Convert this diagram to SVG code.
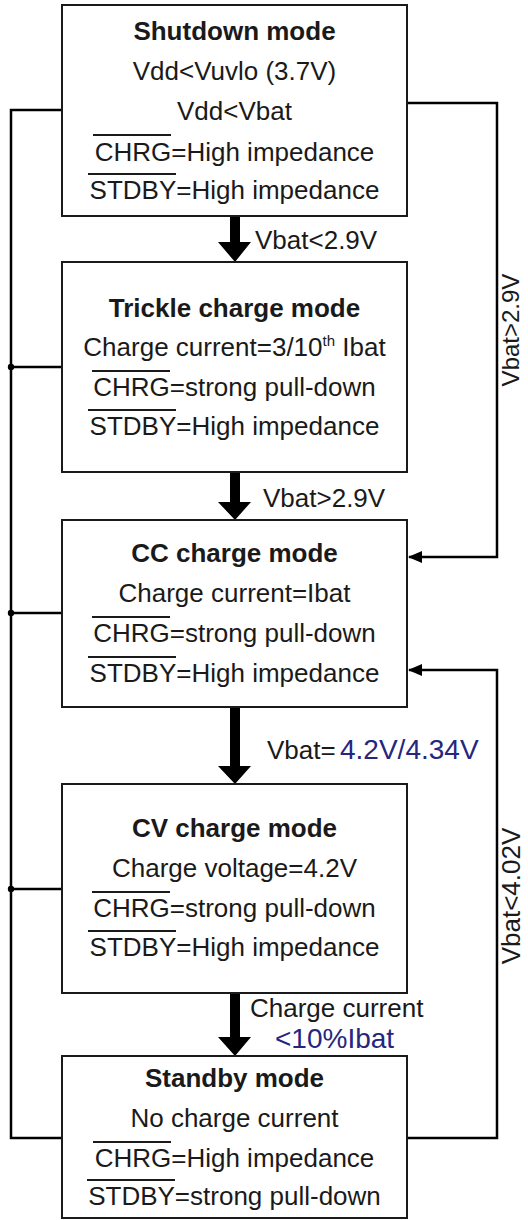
<svg xmlns="http://www.w3.org/2000/svg" width="528" height="1220" viewBox="0 0 528 1220">
<style>
.box{fill:#fff;stroke:#1a1a1a;stroke-width:2}
.t{font-family:"Liberation Sans",Arial,sans-serif;font-size:26px;fill:#1a1a1a;text-anchor:middle}
.b{font-weight:bold}
.l{font-family:"Liberation Sans",Arial,sans-serif;font-size:26px;fill:#1a1a1a}
.v{font-family:"Liberation Sans",Arial,sans-serif;fill:#1a1a1a;text-anchor:middle}
.blue{fill:#26267f;font-size:28px}
.ol{stroke:#1a1a1a;stroke-width:2}
.w{fill:none;stroke:#000;stroke-width:2.5}
.big{fill:#000}
</style>
<defs>
<marker id="ah" markerWidth="14" markerHeight="12" refX="13" refY="6" orient="auto" markerUnits="userSpaceOnUse">
<path d="M0,0 L14,6 L0,12 Z" fill="#000"/>
</marker>
</defs>
<g id="connectors">
<path class="w" d="M62,110 H11 V1138 H62"/>
<path class="w" d="M11,367 H62 M11,613 H62 M11,889 H62"/>
<circle cx="11" cy="367" r="3.2" fill="#000"/>
<circle cx="11" cy="613" r="3.2" fill="#000"/>
<circle cx="11" cy="889" r="3.2" fill="#000"/>
<path class="w" d="M407,103 H497 V557 H409" marker-end="url(#ah)"/>
<path class="w" d="M407,1138 H497 V670 H409" marker-end="url(#ah)"/>
<path class="big" d="M230,216 H240 V242 H251 L235,262 L218,242 H230 Z"/>
<path class="big" d="M230,472 H240 V502 H251 L235,520 L218,502 H230 Z"/>
<path class="big" d="M230,707 H240 V766 H251 L235,784 L218,766 H230 Z"/>
<path class="big" d="M230,993 H240 V1037 H251 L235,1056 L218,1037 H230 Z"/>
<text class="l" x="255" y="249">Vbat&lt;2.9V</text>
<text class="l" x="263" y="507">Vbat&gt;2.9V</text>
<text class="l" x="267" y="759">Vbat=<tspan class="blue" x="340">4.2V/4.34V</tspan></text>
<text class="l" x="250" y="1017">Charge current</text>
<text class="l blue" x="275" y="1048">&lt;10%Ibat</text>
<text class="v" font-size="24" transform="translate(519,330) rotate(-90)">Vbat&gt;2.9V</text>
<text class="v" font-size="26" transform="translate(520,896) rotate(-90)">Vbat&lt;4.02V</text>
</g>
<g id="shutdown">
<rect class="box" x="62" y="5" width="345" height="211"/>
<text class="t b" x="234.5" y="40">Shutdown mode</text>
<text class="t" x="234.5" y="80">Vdd&lt;Vuvlo (3.7V)</text>
<text class="t" x="234.5" y="120">Vdd&lt;Vbat</text>
<text class="t" x="234.5" y="161">CHRG=High impedance</text>
<line class="ol" x1="93" y1="135" x2="171" y2="135"/>
<text class="t" x="234.5" y="199">STDBY=High impedance</text>
<line class="ol" x1="88" y1="174" x2="176" y2="174"/>
</g>
<g id="trickle">
<rect class="box" x="62" y="262" width="345" height="210"/>
<text class="t b" x="234.5" y="317">Trickle charge mode</text>
<text class="t" x="234.5" y="356">Charge current=3/10<tspan font-size="15" dy="-10">th</tspan><tspan dy="10"> Ibat</tspan></text>
<text class="t" x="234.5" y="396">CHRG=strong pull-down</text>
<line class="ol" x1="92" y1="371" x2="170" y2="371"/>
<text class="t" x="234.5" y="435">STDBY=High impedance</text>
<line class="ol" x1="88" y1="410" x2="176" y2="410"/>
</g>
<g id="cc">
<rect class="box" x="62" y="520" width="345" height="187"/>
<text class="t b" x="234.5" y="562">CC charge mode</text>
<text class="t" x="234.5" y="602">Charge current=Ibat</text>
<text class="t" x="234.5" y="642">CHRG=strong pull-down</text>
<line class="ol" x1="92" y1="617" x2="170" y2="617"/>
<text class="t" x="234.5" y="682">STDBY=High impedance</text>
<line class="ol" x1="88" y1="657" x2="176" y2="657"/>
</g>
<g id="cv">
<rect class="box" x="62" y="784" width="345" height="209"/>
<text class="t b" x="234.5" y="837">CV charge mode</text>
<text class="t" x="234.5" y="877">Charge voltage=4.2V</text>
<text class="t" x="234.5" y="917">CHRG=strong pull-down</text>
<line class="ol" x1="92" y1="892" x2="170" y2="892"/>
<text class="t" x="234.5" y="956">STDBY=High impedance</text>
<line class="ol" x1="88" y1="931" x2="176" y2="931"/>
</g>
<g id="standby">
<rect class="box" x="62" y="1056" width="345" height="162"/>
<text class="t b" x="234.5" y="1087">Standby mode</text>
<text class="t" x="234.5" y="1127">No charge current</text>
<text class="t" x="234.5" y="1167">CHRG=High impedance</text>
<line class="ol" x1="93" y1="1142" x2="171" y2="1142"/>
<text class="t" x="234.5" y="1205">STDBY=strong pull-down</text>
<line class="ol" x1="87" y1="1180" x2="175" y2="1180"/>
</g>
</svg>
